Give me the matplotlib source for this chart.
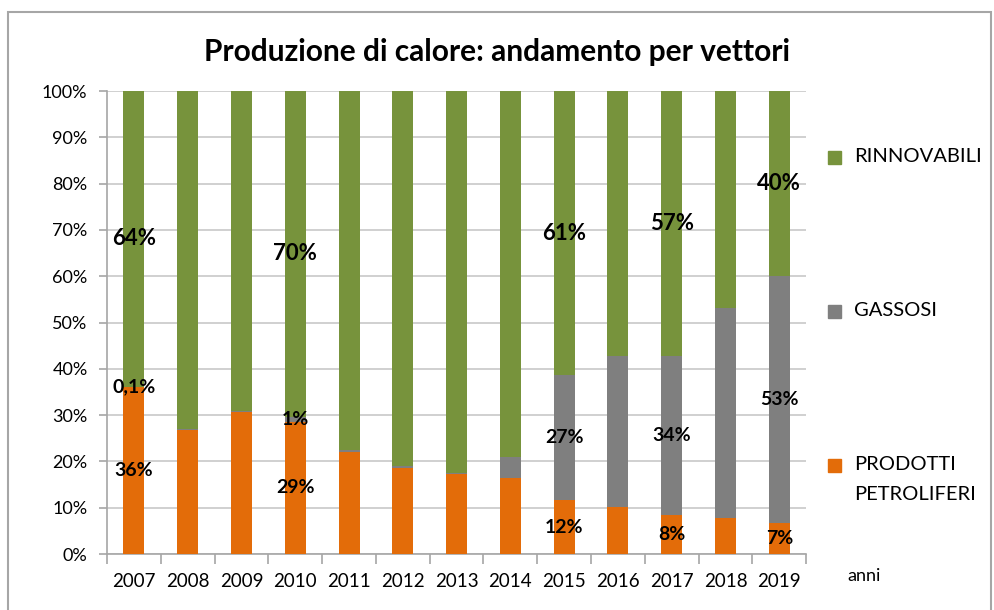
import matplotlib.pyplot as plt
from matplotlib.patches import Rectangle
import numpy as np

plt.rcParams['font.family'] = ['Lato', 'DejaVu Sans']

anni = ['2007', '2008', '2009', '2010', '2011', '2012', '2013',
        '2014', '2015', '2016', '2017', '2018', '2019']
prodotti_petroliferi = [36.0, 26.8, 30.7, 28.6, 22.1, 18.6, 17.2,
                        16.4, 11.6, 10.2, 8.4, 7.8, 6.7]
gassosi = [0.1, 0.3, 0.2, 1.0, 0.3, 0.3, 0.2,
           4.5, 27.0, 32.6, 34.3, 45.4, 53.3]
rinnovabili = [63.9, 72.9, 69.1, 70.4, 77.6, 81.1, 82.6,
               79.1, 61.4, 57.2, 57.3, 46.8, 40.0]
# years whose segments carry a value label
anni_etichettati = ['2007', '2010', '2015', '2017', '2019']

c_petr = '#e36c09'
c_gas = '#7f7f7f'
c_rinn = '#77933c'

fig = plt.figure(figsize=(9.94, 6.10), dpi=100)
ax = fig.add_axes([0.1076, 0.0918, 0.7035, 0.759])

x = np.arange(len(anni))
w = 0.39
petr = np.array(prodotti_petroliferi)
gas = np.array(gassosi)
rinn = np.array(rinnovabili)

ax.bar(x, petr, w, color=c_petr, label='PRODOTTI\nPETROLIFERI', zorder=3)
ax.bar(x, gas, w, bottom=petr, color=c_gas, label='GASSOSI', zorder=3)
ax.bar(x, rinn, w, bottom=petr + gas, color=c_rinn, label='RINNOVABILI', zorder=3)


def fmt(v):
    if v < 1:
        return ('%.1f%%' % v).replace('.', ',')
    return '%d%%' % round(v)


for i, a in enumerate(anni):
    if a not in anni_etichettati:
        continue
    ax.text(i, petr[i] / 2, fmt(petr[i]), ha='center', va='center',
            fontsize=14, fontweight='bold', zorder=4)
    ax.text(i, petr[i] + gas[i] / 2, fmt(gas[i]), ha='center', va='center',
            fontsize=14, fontweight='bold', zorder=4)
    ax.text(i, petr[i] + gas[i] + rinn[i] / 2, fmt(rinn[i]), ha='center',
            va='center', fontsize=16, fontweight='bold', zorder=4)

ax.set_xlim(-0.5, len(anni) - 0.5)
ax.set_ylim(0, 100)
ax.set_yticks(np.arange(0, 101, 10))
ax.set_yticklabels(['%d%%' % v for v in range(0, 101, 10)], fontsize=13)
ax.yaxis.grid(True, color='#c8c8c8', linewidth=1.2, zorder=0)

# category labels centred, tick marks on category boundaries
ax.set_xticks(x)
ax.set_xticklabels(anni, fontsize=13.5)
ax.tick_params(axis='x', length=0, pad=14)
ax.set_xticks(np.arange(-0.5, len(anni)), minor=True)
ax.tick_params(axis='x', which='minor', length=7, color='#a6a6a6', width=1.2)
ax.tick_params(axis='y', length=6, color='#a6a6a6', width=1.2, pad=8)

for s in ['top', 'right']:
    ax.spines[s].set_visible(False)
for s in ['left', 'bottom']:
    ax.spines[s].set_color('#a6a6a6')
    ax.spines[s].set_linewidth(1.2)

fig.text(0.5, 0.915, 'Produzione di calore: andamento per vettori',
         ha='center', va='center', fontsize=21.5, fontweight='bold')
fig.text(0.852, 0.055, 'anni', ha='left', va='center', fontsize=13)

# legend entries placed down the right side
leg = [(c_rinn, ['RINNOVABILI'], 157),
       (c_gas, ['GASSOSI'], 311),
       (c_petr, ['PRODOTTI', 'PETROLIFERI'], 465)]
for col, righe, ypx in leg:
    yf = 1 - ypx / 610
    fig.patches.append(Rectangle((828 / 994, yf - 6.5 / 610), 13 / 994, 13 / 610,
                                 transform=fig.transFigure, color=col))
    for k, r in enumerate(righe):
        fig.text(854 / 994, yf - k * 30 / 610, r, ha='left', va='center',
                 fontsize=14.5)

# outer chart border
fig.patches.append(Rectangle((8 / 994, -0.01), 983 / 994, 1 - 12 / 610 + 0.01,
                             transform=fig.transFigure, fill=False,
                             edgecolor='#a6a6a6', linewidth=1.5))

fig.savefig('out.png', dpi=100)
